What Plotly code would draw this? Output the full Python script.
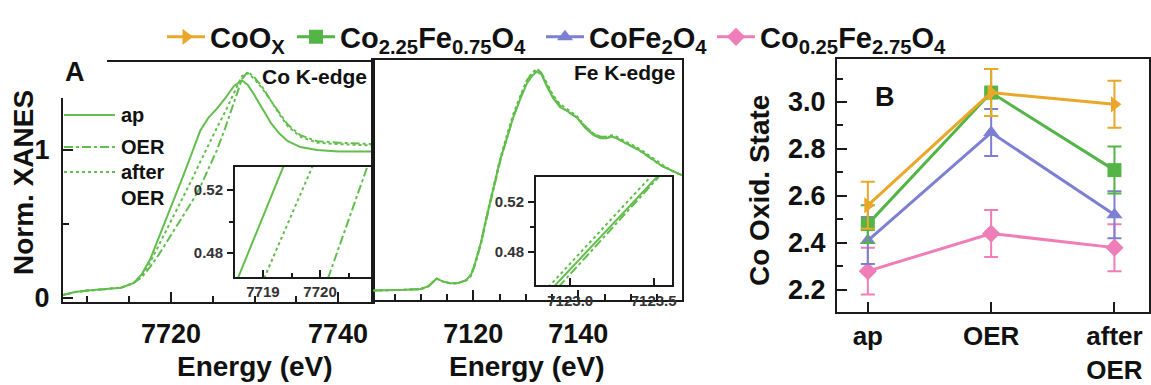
import plotly.graph_objects as go

W, H = 1151, 385
FONT = "Liberation Sans"
INK = "#111111"
XGREEN = "#62BE4C"

# ---- Co K-edge XANES (normalised) ----
co_energy = [7707, 7708.5, 7710, 7712, 7714, 7715.5, 7716.5, 7717.5, 7718.5, 7719.5,
             7720.5, 7721.5, 7722.5, 7723.5, 7724.5, 7725.5, 7726.5, 7727.5, 7728.5, 7729.2,
             7730, 7731, 7732, 7733, 7734, 7735.5, 7737.5, 7740, 7744.2]
co_ap = [0.02, 0.04, 0.05, 0.06, 0.07, 0.10, 0.16, 0.26, 0.40, 0.55,
         0.69, 0.83, 0.98, 1.13, 1.22, 1.28, 1.35, 1.43, 1.47, 1.44,
         1.37, 1.27, 1.18, 1.11, 1.06, 1.02, 1.00, 0.99, 0.99]
co_oer = [0.02, 0.04, 0.05, 0.06, 0.07, 0.10, 0.14, 0.21, 0.29, 0.38,
          0.47, 0.56, 0.65, 0.75, 0.87, 1.00, 1.15, 1.31, 1.48, 1.53,
          1.49, 1.42, 1.33, 1.25, 1.17, 1.10, 1.06, 1.05, 1.04]
co_after = [0.02, 0.04, 0.05, 0.06, 0.07, 0.10, 0.15, 0.24, 0.35, 0.47,
            0.58, 0.69, 0.80, 0.92, 1.04, 1.15, 1.26, 1.38, 1.50, 1.52,
            1.48, 1.41, 1.33, 1.24, 1.16, 1.09, 1.05, 1.04, 1.03]

# Co edge close-up (inset)
co_zoom_ap_e = [7718.56, 7719.37]
co_zoom_oer_e = [7720.14, 7720.84]
co_zoom_after_e = [7719.02, 7719.88]
co_zoom_level = [0.464, 0.536]

# ---- Fe K-edge XANES (normalised) ----
fe_energy = [7101, 7104, 7107, 7110, 7111.5, 7113, 7114.3, 7115.6, 7117, 7118.7,
             7119.6, 7120.3, 7121.5, 7122.5, 7123.8, 7125.1, 7126.4, 7127.6, 7128.9, 7130.2,
             7131.2, 7132.1, 7133, 7134, 7135.2, 7136.5, 7138, 7139.7, 7141.3, 7142.9,
             7144.2, 7145.4, 7146.4, 7147.3, 7148.8, 7150.5, 7152.4, 7154.3, 7156, 7157.8,
             7159.7]
fe_ap = [0.05, 0.05, 0.055, 0.06, 0.08, 0.13, 0.11, 0.10, 0.10, 0.12,
         0.16, 0.23, 0.38, 0.54, 0.74, 0.93, 1.08, 1.22, 1.34, 1.45,
         1.50, 1.53, 1.51, 1.43, 1.35, 1.29, 1.26, 1.22, 1.15, 1.10,
         1.08, 1.08, 1.09, 1.08, 1.05, 1.02, 0.98, 0.93, 0.89, 0.86,
         0.83]
fe_oer = [0.05, 0.05, 0.055, 0.06, 0.08, 0.13, 0.11, 0.10, 0.10, 0.12,
          0.15, 0.22, 0.37, 0.53, 0.73, 0.92, 1.08, 1.22, 1.35, 1.47,
          1.52, 1.55, 1.52, 1.44, 1.36, 1.30, 1.26, 1.22, 1.16, 1.11,
          1.09, 1.09, 1.09, 1.08, 1.05, 1.02, 0.98, 0.93, 0.89, 0.86,
          0.83]
fe_after = [0.05, 0.05, 0.055, 0.06, 0.08, 0.13, 0.11, 0.10, 0.10, 0.12,
            0.16, 0.23, 0.38, 0.55, 0.75, 0.94, 1.10, 1.24, 1.36, 1.47,
            1.52, 1.54, 1.52, 1.45, 1.37, 1.31, 1.27, 1.23, 1.16, 1.11,
            1.09, 1.09, 1.10, 1.09, 1.06, 1.03, 0.99, 0.94, 0.90, 0.86,
            0.83]

# Fe edge close-up (inset)
fe_zoom_ap_e = [7122.90, 7123.52]
fe_zoom_oer_e = [7122.93, 7123.53]
fe_zoom_after_e = [7122.87, 7123.48]
fe_zoom_level = [0.452, 0.540]

# ---- Co oxidation state ----
stages = ["ap", "OER", "after<br>OER"]
coox_state = [2.56, 3.04, 2.99]
coox_err = [0.10, 0.10, 0.10]
co225_state = [2.48, 3.04, 2.71]
co225_err = [0.08, 0.10, 0.10]
cofe2o4_state = [2.41, 2.87, 2.52]
cofe2o4_err = [0.10, 0.10, 0.10]
co025_state = [2.28, 2.44, 2.38]
co025_err = [0.10, 0.10, 0.10]

samples = [
    ("CoO<sub>X</sub>", coox_state, coox_err, "#EAA82A", "triangle-right"),
    ("Co<sub>2.25</sub>Fe<sub>0.75</sub>O<sub>4</sub>", co225_state, co225_err, "#52B546", "square"),
    ("CoFe<sub>2</sub>O<sub>4</sub>", cofe2o4_state, cofe2o4_err, "#7D7FD2", "triangle-up"),
    ("Co<sub>0.25</sub>Fe<sub>2.75</sub>O<sub>4</sub>", co025_state, co025_err, "#EF7DB7", "diamond"),
]
# left edge (px) of each key entry along the top row
key_left = [162, 292, 541, 712]
key_ids = ["legend", "legend2", "legend3", "legend4"]


def px(x):
    return x / W


def py(y):
    return 1 - y / H


fig = go.Figure()

dash_styles = {"ap": "solid", "OER": "dashdot", "after": "dot"}

for e, v, d in [(co_energy, co_ap, "ap"), (co_energy, co_oer, "OER"), (co_energy, co_after, "after")]:
    fig.add_trace(go.Scatter(x=e, y=v, mode="lines", xaxis="x", yaxis="y", showlegend=False,
                             line=dict(color=XGREEN, width=2, dash=dash_styles[d])))
for e, v, d in [(fe_energy, fe_ap, "ap"), (fe_energy, fe_oer, "OER"), (fe_energy, fe_after, "after")]:
    fig.add_trace(go.Scatter(x=e, y=v, mode="lines", xaxis="x2", yaxis="y2", showlegend=False,
                             line=dict(color=XGREEN, width=2, dash=dash_styles[d])))
for e, d in [(co_zoom_ap_e, "ap"), (co_zoom_oer_e, "OER"), (co_zoom_after_e, "after")]:
    fig.add_trace(go.Scatter(x=e, y=co_zoom_level, mode="lines", xaxis="x3", yaxis="y3", showlegend=False,
                             line=dict(color=XGREEN, width=2, dash=dash_styles[d])))
for e, d in [(fe_zoom_ap_e, "ap"), (fe_zoom_oer_e, "OER"), (fe_zoom_after_e, "after")]:
    fig.add_trace(go.Scatter(x=e, y=fe_zoom_level, mode="lines", xaxis="x4", yaxis="y4", showlegend=False,
                             line=dict(color=XGREEN, width=2, dash=dash_styles[d])))

# draw the lowest series first so the upper ones sit on top
for i, (name, vals, err, col, sym) in reversed(list(enumerate(samples))):
    fig.add_trace(go.Scatter(
        x=stages, y=vals, name=name, mode="lines+markers", xaxis="x5", yaxis="y5",
        legend=key_ids[i],
        line=dict(color=col, width=3),
        marker=dict(color=col, symbol=sym, size=14),
        error_y=dict(type="data", array=err, visible=True, color=col, thickness=2, width=7),
    ))

tickfont = dict(family=FONT, size=27, color=INK, weight="bold")
smallfont = dict(family=FONT, size=15, color="#333333", weight="bold")
frame = dict(showline=True, linecolor="#1a1a1a", linewidth=2, mirror=True,
             showgrid=False, zeroline=False, automargin=False)

layout = dict(
    width=W, height=H,
    margin=dict(l=0, r=0, t=0, b=0, autoexpand=False),
    paper_bgcolor="white", plot_bgcolor="rgba(0,0,0,0)",
    showlegend=True,
    # Co K-edge panel
    xaxis=dict(domain=[px(63), px(373)], range=[7707.07, 7744.19], anchor="y",
               tickvals=[7720, 7740], ticks="inside", ticklen=10, tickwidth=2, tickcolor="#1a1a1a",
               minor=dict(tickvals=[7710, 7715, 7725, 7730, 7735], ticks="inside", ticklen=6,
                          tickwidth=2, tickcolor="#1a1a1a"),
               tickfont=tickfont, ticklabelstandoff=7, **frame),
    yaxis=dict(domain=[py(302), py(62)], range=[-0.027, 1.595], anchor="x",
               tickvals=[0, 1], ticktext=["0", "1"], ticks="inside", ticklen=10, tickwidth=2,
               tickcolor="#1a1a1a",
               minor=dict(tickvals=[0.5], ticks="inside", ticklen=6, tickwidth=2, tickcolor="#1a1a1a"),
               tickfont=tickfont, ticklabelstandoff=6, **frame),
    # Fe K-edge panel
    xaxis2=dict(domain=[px(373), px(682)], range=[7100.9, 7159.75], anchor="y2",
                tickvals=[7120, 7140], ticks="inside", ticklen=10, tickwidth=2, tickcolor="#1a1a1a",
                minor=dict(tickvals=[7105, 7110, 7115, 7125, 7130, 7135, 7145, 7150, 7155],
                           ticks="inside", ticklen=6, tickwidth=2, tickcolor="#1a1a1a"),
                tickfont=tickfont, ticklabelstandoff=9, **frame),
    yaxis2=dict(domain=[py(300), py(60)], range=[-0.014, 1.608], anchor="x2",
                showticklabels=False, ticks="", **frame),
    # Co inset
    xaxis3=dict(domain=[px(235), px(372)], range=[7718.51, 7720.91], anchor="y3",
                tickvals=[7719, 7720], ticks="inside", ticklen=7, tickwidth=2, tickcolor="#1a1a1a",
                minor=dict(tickvals=[7719.5, 7720.5], ticks="inside", ticklen=4, tickwidth=2,
                           tickcolor="#1a1a1a"),
                tickfont=smallfont, ticklabelstandoff=0, **frame),
    yaxis3=dict(domain=[py(277), py(167)], range=[0.4648, 0.5346], anchor="x3",
                tickvals=[0.48, 0.52], ticktext=["0.48", "0.52"], ticks="outside", ticklen=6,
                tickwidth=2, tickcolor="#1a1a1a",
                minor=dict(tickvals=[0.50], ticks="outside", ticklen=4, tickwidth=2, tickcolor="#1a1a1a"),
                tickfont=smallfont, ticklabelstandoff=1, **frame),
    # Fe inset
    xaxis4=dict(domain=[px(536), px(672)], range=[7122.795, 7123.61], anchor="y4",
                tickvals=[7123.0, 7123.5], ticktext=["7123.0", "7123.5"], ticks="inside", ticklen=7,
                tickwidth=2, tickcolor="#1a1a1a",
                tickfont=smallfont, ticklabelstandoff=1, **frame),
    yaxis4=dict(domain=[py(285), py(177)], range=[0.4536, 0.54], anchor="x4",
                tickvals=[0.48, 0.52], ticktext=["0.48", "0.52"], ticks="outside", ticklen=6,
                tickwidth=2, tickcolor="#1a1a1a",
                minor=dict(tickvals=[0.50], ticks="outside", ticklen=4, tickwidth=2, tickcolor="#1a1a1a"),
                tickfont=smallfont, ticklabelstandoff=1, **frame),
    # Oxidation state panel
    xaxis5=dict(domain=[px(837), px(1149)], range=[-0.25, 2.28], anchor="y5", type="category",
                ticks="inside", ticklen=10, tickwidth=2, tickcolor="#1a1a1a",
                tickfont=dict(family=FONT, size=26, color=INK, weight="bold"),
                ticklabelstandoff=0, **frame),
    yaxis5=dict(domain=[py(312), py(59)], range=[2.106, 3.183], anchor="x5",
                tickvals=[2.2, 2.4, 2.6, 2.8, 3.0], ticktext=["2.2", "2.4", "2.6", "2.8", "3.0"],
                ticks="inside", ticklen=10, tickwidth=2, tickcolor="#1a1a1a",
                minor=dict(tickvals=[2.3, 2.5, 2.7, 2.9, 3.1], ticks="inside", ticklen=6, tickwidth=2,
                           tickcolor="#1a1a1a"),
                tickfont=tickfont, ticklabelstandoff=4, **frame),
)

for lid, left in zip(key_ids, key_left):
    layout[lid] = dict(orientation="h", x=px(left), y=py(37), xanchor="left", yanchor="middle",
                       font=dict(family=FONT, size=29, color=INK, weight="bold"),
                       bgcolor="rgba(0,0,0,0)", itemwidth=38)

shapes = [
    # open top-left corner of the Co panel frame
    dict(type="rect", xref="paper", yref="paper", x0=px(52), x1=px(107), y0=py(98), y1=py(50),
         fillcolor="white", line=dict(width=0), layer="above"),
]
# key for the XANES line styles
for yk, d in [(115, "solid"), (147, "dashdot"), (172, "dot")]:
    shapes.append(dict(type="line", xref="paper", yref="paper", x0=px(64), x1=px(115),
                       y0=py(yk), y1=py(yk), line=dict(color=XGREEN, width=2, dash=d), layer="above"))
layout["shapes"] = shapes


def label(x, y, text, size, xanchor="center", **kw):
    return dict(xref="paper", yref="paper", x=px(x), y=py(y), text=text, showarrow=False,
                xanchor=xanchor, yanchor="middle",
                font=dict(family=FONT, size=size, color=INK, weight="bold"), **kw)


layout["annotations"] = [
    label(63, 72, "A", 27, xanchor="left"),
    label(885, 97, "B", 27),
    label(369, 77, "Co K-edge", 21, xanchor="right"),
    label(678, 73, "Fe K-edge", 21, xanchor="right"),
    label(119, 115, "ap", 20, xanchor="left"),
    label(119, 147, "OER", 20, xanchor="left"),
    label(119, 172, "after", 20, xanchor="left"),
    label(119, 198, "OER", 20, xanchor="left"),
    label(255, 366, "Energy (eV)", 28),
    label(527, 366, "Energy (eV)", 28),
    label(23, 183, "Norm. XANES", 28, textangle=-90),
    label(760, 190, "Co Oxid. State", 28, textangle=-90),
]

fig.update_layout(**layout)
fig.write_html("out.html")
